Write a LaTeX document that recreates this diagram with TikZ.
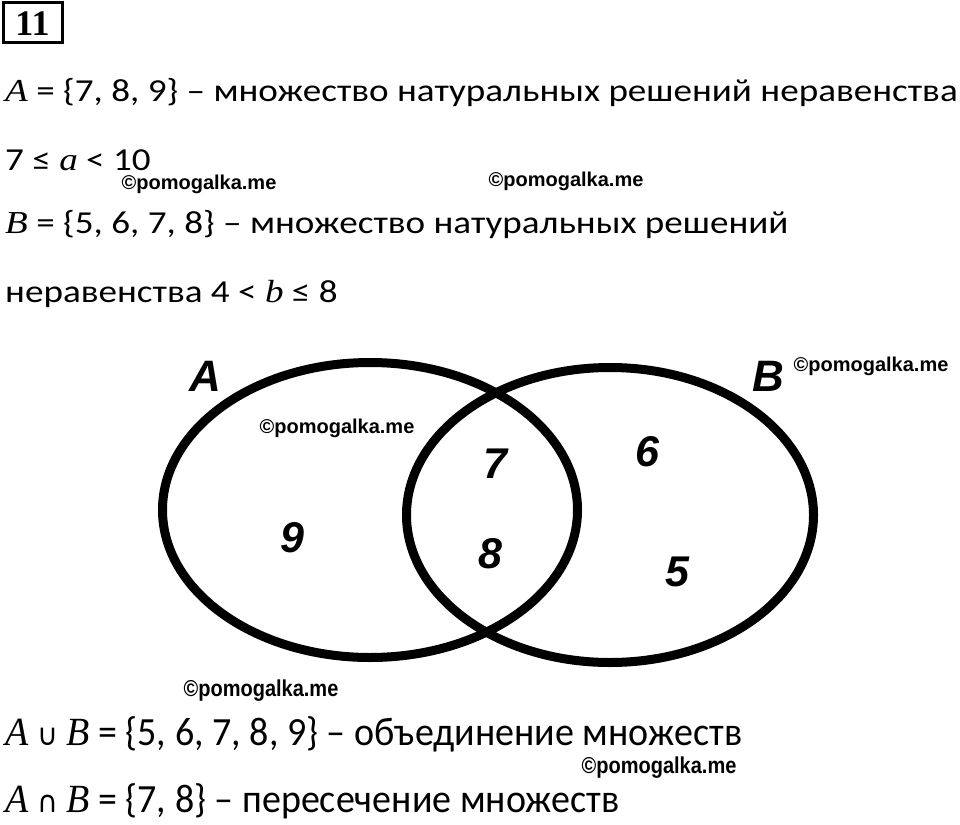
\documentclass[tikz,border=0pt]{standalone}
\usepackage{fontspec}
\usepackage{graphicx}
\setmainfont{Carlito}
\newfontfamily\varfont{Liberation Serif}
\newfontfamily\markfont{Liberation Sans}
\newfontfamily\numfont{Liberation Serif}
\newfontfamily\symfont{DejaVu Sans}
\usetikzlibrary{calc}
\tikzset{
  line-text/.style={
    anchor=base west,
    inner sep=0pt,
    font=\fontsize{32}{32}\selectfont
  },
  line-wide/.style={
    line-text,
    font=\fontsize{40}{40}\selectfont
  },
  mark-text/.style={
    inner sep=0pt,
    font=\markfont\bfseries\fontsize{20}{20}\selectfont
  },
  venn-ring/.style={line width=9pt, draw=black},
  venn-digit/.style={
    inner sep=0pt,
    font=\markfont\bfseries\itshape\fontsize{43}{43}\selectfont
  },
  venn-label/.style={venn-digit, font=\markfont\bfseries\itshape\fontsize{44}{44}\selectfont}
}
\newcommand{\vr}[1]{{\varfont\itshape #1}}
\newcommand{\wide}[1]{\scalebox{1.16}[1]{#1}}

\begin{document}
\begin{tikzpicture}[x=1pt,y=-1pt]
  \useasboundingbox (0,0) rectangle (960,824);

  % Task number
  \draw[line width=3pt] (3,3) rectangle (62,43);
  \node[font=\numfont\bfseries\fontsize{36}{36}\selectfont, inner sep=0pt] (num) at (32.5,24) {11};

  % Sets and inequalities
  \node[line-text] (setA) at (5,102) {\wide{\vr{A} = \{7, 8, 9\} – множество натуральных решений неравенства}};
  \node[line-text] (ineqA) at (5,170) {\wide{7 ≤ \vr{a} < 10}};
  \node[line-text] (setB) at (5,233) {\wide{\vr{B} = \{5, 6, 7, 8\} – множество натуральных решений}};
  \node[line-text] (ineqB) at (5,302) {\wide{неравенства 4 < \vr{b} ≤ 8}};

  % Venn diagram
  \draw[venn-ring] (370,510) ellipse [x radius=207.5pt, y radius=147.5pt];
  \draw[venn-ring] (610,515) ellipse [x radius=203.5pt, y radius=147.5pt];
  \node[venn-label] (labA) at (205,376) {A};
  \node[venn-label] (labB) at (768,376) {B};
  \node[venn-digit] (d9) at (292,538) {9};
  \node[venn-digit] (d7) at (495,464) {7};
  \node[venn-digit] (d8) at (490,554) {8};
  \node[venn-digit] (d6) at (647,452) {6};
  \node[venn-digit] (d5) at (677,572) {5};

  % Union and intersection
  \node[line-wide] (union) at (5,745) {\scalebox{0.95}[1]{\vr{A} {\symfont\fontsize{30}{30}\selectfont ∪} \vr{B} = \{5, 6, 7, 8, 9\} – объединение множеств}};
  \node[line-wide] (inter) at (5,812) {\scalebox{0.95}[1]{\vr{A} {\symfont\fontsize{30}{30}\selectfont ∩} \vr{B} = \{7, 8\} – пересечение множеств}};

  % Watermarks
  \node[mark-text] (wm1) at (199,184) {©pomogalka.me};
  \node[mark-text] (wm2) at (566,181) {©pomogalka.me};
  \node[mark-text] (wm3) at (337,428) {©pomogalka.me};
  \node[mark-text] (wm4) at (871,366) {©pomogalka.me};
  \node[mark-text] (wm5) at (261,691) {\scalebox{1}[1.15]{©pomogalka.me}};
  \node[mark-text] (wm6) at (659,768) {\scalebox{1}[1.15]{©pomogalka.me}};
\end{tikzpicture}
\end{document}
